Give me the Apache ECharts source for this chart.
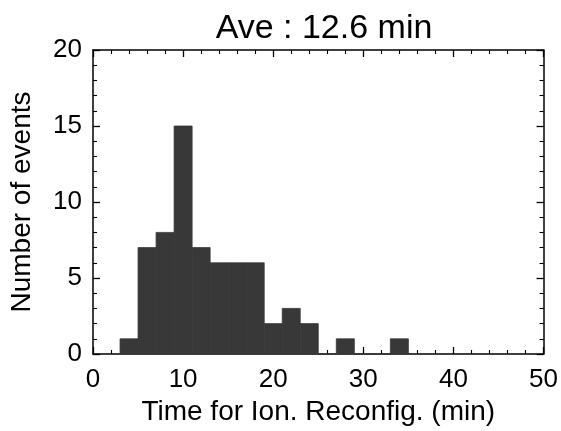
<!DOCTYPE html>
<html>
<head>
<meta charset="utf-8">
<script src="https://cdn.jsdelivr.net/npm/echarts@6/dist/echarts.min.js"></script>
<style>html,body{margin:0;padding:0;background:#fff}#c{width:561px;height:431px}</style>
</head>
<body>
<div id="c"></div>
<script>
// Histogram data (bin lower edges in minutes, bin width, counts)
var binStarts = [3, 5, 7, 9, 11, 13, 15, 17, 19, 21, 23, 25, 27, 29, 31, 33];
var binWidth = 2;
var counts    = [1, 7, 8, 15, 7, 6, 6, 6, 2, 3, 2, 0, 1, 0, 0, 1];
var xTicks = [0, 10, 20, 30, 40, 50];
var yTicks = [0, 5, 10, 15, 20];
var titleText = 'Ave : 12.6 min';
var xName = 'Time for Ion. Reconfig. (min)';
var yName = 'Number of events';

var data = binStarts.map(function (s, i) { return [s, s + binWidth, counts[i]]; });
var FONT = '"Liberation Sans", Arial, Helvetica, sans-serif';

var chart = echarts.init(document.getElementById('c'), null, {renderer: 'canvas'});

function axisCommon(showLabel, interval, min, max) {
  return {
    type: 'value', min: min, max: max, interval: interval,
    axisLine: {show: true, onZero: false, lineStyle: {color: '#000', width: 1.5}},
    axisTick: {show: true, inside: true, length: 7, lineStyle: {color: '#000', width: 1.3}},
    minorTick: {show: true, splitNumber: 5, length: 4, lineStyle: {color: '#000', width: 1.1}},
    splitLine: {show: false},
    axisLabel: {show: showLabel, color: '#000', fontSize: 26, fontFamily: FONT}
  };
}

var xb = axisCommon(true, 10, xTicks[0], xTicks[xTicks.length - 1]);
xb.position = 'bottom';
xb.axisLabel.margin = 13;
xb.name = xName; xb.nameLocation = 'middle'; xb.nameGap = 44;
xb.nameTextStyle = {color: '#000', fontSize: 28, fontFamily: FONT};
var xt = axisCommon(false, 10, xTicks[0], xTicks[xTicks.length - 1]);
xt.position = 'top';

var yl = axisCommon(true, 5, yTicks[0], yTicks[yTicks.length - 1]);
yl.position = 'left';
yl.axisLabel.margin = 11;
yl.name = yName; yl.nameLocation = 'middle'; yl.nameGap = 57;
yl.nameTextStyle = {color: '#000', fontSize: 28, fontFamily: FONT};
var yr = axisCommon(false, 5, yTicks[0], yTicks[yTicks.length - 1]);
yr.position = 'right';

chart.setOption({
  animation: false,
  backgroundColor: '#fff',
  title: {
    text: titleText, left: 319, top: 7, textAlign: 'center',
    textStyle: {color: '#000', fontSize: 34, fontWeight: 'normal', fontFamily: FONT}
  },
  grid: {left: 93, right: 16, top: 50, bottom: 72, containLabel: false},
  xAxis: [xb, xt],
  yAxis: [yl, yr],
  series: [{
    type: 'custom',
    xAxisIndex: 0, yAxisIndex: 0,
    data: data,
    encode: {x: [0, 1], y: 2},
    renderItem: function (params, api) {
      var p0 = api.coord([api.value(0), api.value(2)]);
      var p1 = api.coord([api.value(1), 0]);
      return {
        type: 'rect',
        shape: {x: p0[0], y: p0[1], width: p1[0] - p0[0], height: p1[1] - p0[1]},
        style: {fill: '#383838', stroke: '#383838', lineWidth: 0.8}
      };
    },
    z: 1
  }]
});
</script>
</body>
</html>
